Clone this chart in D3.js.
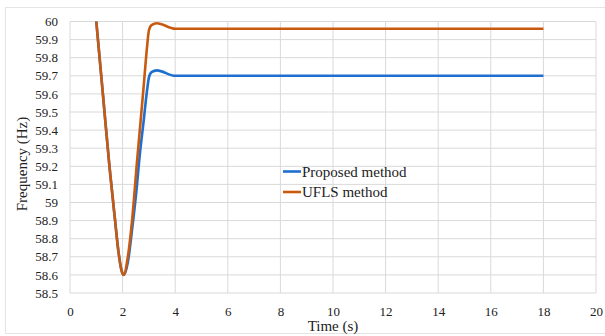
<!DOCTYPE html>
<html>
<head>
<meta charset="utf-8">
<script src="https://cdn.jsdelivr.net/npm/d3@7"></script>
<style>
  body { margin: 0; background: #fff; }
  svg text { font-family: "Liberation Serif", "Times New Roman", "DejaVu Serif", serif !important; fill: #222; }
</style>
</head>
<body>
<div id="chart"></div>
<script>
// time samples (s) and frequency (Hz) for both methods
const time     = [1, 1.25, 1.5, 1.7, 1.85, 1.95, 2.04, 2.2, 2.36, 2.55, 2.63, 2.8, 2.93, 3.0, 3.1, 3.3, 4, 18]
const proposed = [60, 59.6, 59.2, 58.92, 58.72, 58.63, 58.6, 58.67, 58.85, 59.10, 59.23, 59.45, 59.62, 59.69, 59.72, 59.73, 59.70, 59.70]
const ufls     = [60, 59.6, 59.2, 58.92, 58.72, 58.63, 58.6, 58.70, 58.90, 59.23, 59.36, 59.64, 59.86, 59.95, 59.98, 59.99, 59.96, 59.96]

const xTicks = [0, 2, 4, 6, 8, 10, 12, 14, 16, 18, 20]
const yTicks = d3.range(0, 16).map(i => +(58.5 + i * 0.1).toFixed(1))

const series = [
  {name: "Proposed method", values: proposed, color: "#1f6fcf"},
  {name: "UFLS method", values: ufls, color: "#c8590f"}
]

const W = 605, H = 336
const margin = {top: 21.5, right: 9, bottom: 43, left: 70},
    width = W - margin.left - margin.right,
    height = H - margin.top - margin.bottom

const svg = d3.select("#chart")
  .append("svg")
    .attr("width", W)
    .attr("height", H)

// light outer frame
svg.append("rect")
  .attr("x", 5.5).attr("y", 7.5)
  .attr("width", 610).attr("height", 326)
  .attr("fill", "none")
  .attr("stroke", "#e4e4e4")

const g = svg.append("g")
  .attr("transform", "translate(" + margin.left + "," + margin.top + ")")

const x = d3.scaleLinear().domain([0, 20]).range([0, width])
const y = d3.scaleLinear().domain([58.5, 60]).range([height, 0])

// grid
g.append("g")
  .selectAll("line")
  .data(yTicks)
  .enter().append("line")
    .attr("x1", 0).attr("x2", width)
    .attr("y1", d => y(d)).attr("y2", d => y(d))
    .attr("stroke", "#d9d9d9")

g.append("g")
  .selectAll("line")
  .data(xTicks)
  .enter().append("line")
    .attr("y1", 0).attr("y2", height)
    .attr("x1", d => x(d)).attr("x2", d => x(d))
    .attr("stroke", "#d9d9d9")

// axes (labels only)
const yAxis = g.append("g")
  .call(d3.axisLeft(y).tickValues(yTicks).tickSize(0).tickPadding(12).tickFormat(d => d3.format("")(d)))
  .attr("font-family", "Liberation Serif")
  .attr("font-size", 13)
yAxis.select(".domain").remove()

const xAxis = g.append("g")
  .attr("transform", "translate(0," + height + ")")
  .call(d3.axisBottom(x).tickValues(xTicks).tickSize(0).tickPadding(14))
  .attr("font-family", "Liberation Serif")
  .attr("font-size", 13)
xAxis.select(".domain").remove()

// lines
const line = d3.line()
  .x((d, i) => x(time[i]))
  .y(d => y(d))
  .curve(d3.curveMonotoneX)

g.append("g")
  .selectAll("path")
  .data(series)
  .enter().append("path")
    .attr("d", d => line(d.values))
    .attr("fill", "none")
    .attr("stroke", d => d.color)
    .attr("stroke-width", 2.6)

// axis titles
svg.append("text")
  .attr("x", margin.left + width / 2)
  .attr("y", 331)
  .attr("text-anchor", "middle")
  .attr("font-size", 15)
  .text("Time (s)")

svg.append("text")
  .attr("transform", "translate(27,164) rotate(-90)")
  .attr("text-anchor", "middle")
  .attr("font-size", 15)
  .text("Frequency (Hz)")

// legend
const legend = svg.append("g")
  .selectAll("g")
  .data(series)
  .enter().append("g")
    .attr("transform", (d, i) => "translate(283," + (171.5 + i * 20.5) + ")")

legend.append("line")
  .attr("x1", 0).attr("x2", 18)
  .attr("stroke", d => d.color)
  .attr("stroke-width", 2.6)

legend.append("text")
  .attr("x", 19)
  .attr("y", 5)
  .attr("font-size", 15)
  .text(d => d.name)
</script>
</body>
</html>
